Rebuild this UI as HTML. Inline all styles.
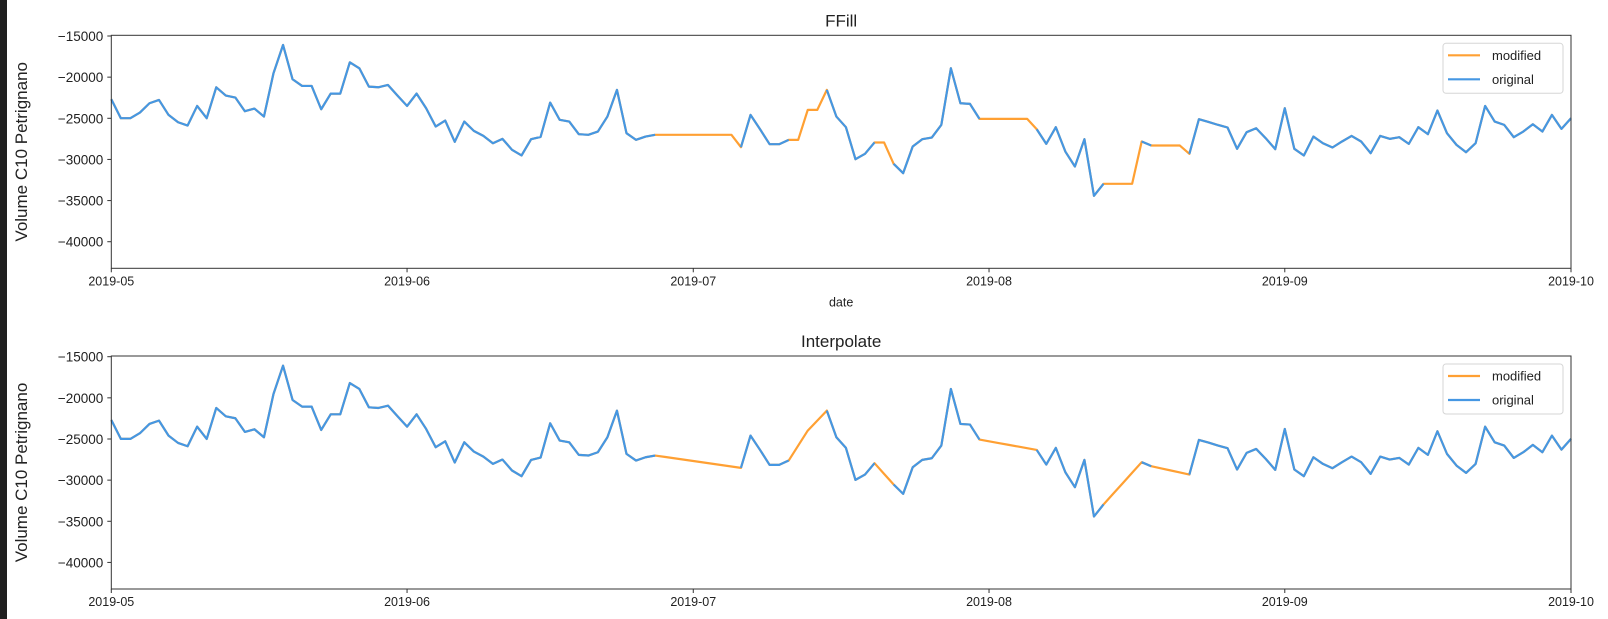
<!DOCTYPE html>
<html><head><meta charset="utf-8"><style>
html,body{margin:0;padding:0;background:#fff;}
body{width:1608px;height:619px;overflow:hidden;position:relative;font-family:"Liberation Sans","DejaVu Sans",sans-serif;}
#strip{position:absolute;left:0;top:0;width:7px;height:619px;background:#1f1f1f;}
</style></head><body>
<div id="strip"></div>
<svg id="chart" width="1608" height="619" style="position:absolute;left:0;top:0"></svg>
<script>
// ---- data ----
const startDate = "2019-05-01";
const monthTicks = ["2019-05","2019-06","2019-07","2019-08","2019-09","2019-10"];
const monthTickDays = [0,31,61,92,123,153];
const yTicks = [-15000,-20000,-25000,-30000,-35000,-40000];
const panelTitles = ["FFill","Interpolate"];
const legendLabels = ["modified","original"];
// daily original values (null = missing)
const original = [
-22690,-24990,-24990,-24300,-23170,-22770,-24590,-25480,-25880,-23500,
-24990,-21230,-22240,-22480,-24140,-23820,-24790,-19530,-16090,-20260,
-21070,-21070,-23900,-22000,-22000,-18200,-18920,-21150,-21230,-20950,
-22240,-23500,-22000,-23780,-26000,-25280,-27860,-25400,-26530,-27140,
-28030,-27500,-28830,-29520,-27540,-27260,-23090,-25190,-25400,-26930,
-27010,-26610,-24790,-21550,-26810,-27620,-27220,-27010,null,null,
null,null,null,null,null,null,-28510,-24590,-26330,-28150,
-28150,-27620,null,-23980,null,-21550,-24790,-26080,-29970,-29320,
-27940,null,-30530,-31670,-28430,-27540,-27340,-25800,-18920,-23170,
-23250,-25070,null,null,null,null,null,-26330,-28110,-26080,
-29040,-30860,-27540,-34420,-32960,null,null,null,-27820,-28310,
null,null,null,-29320,-25110,-25440,-25800,-26120,-28710,-26690,
-26210,-27420,-28750,-23780,-28710,-29520,-27220,-28030,-28550,-27820,
-27140,-27820,-29240,-27140,-27500,-27300,-28110,-26080,-26930,-24060,
-26810,-28230,-29120,-28030,-23500,-25400,-25800,-27300,-26610,-25720,
-26610,-24590,-26290,-24990
];
// ---- derived series ----
function ffill(a){const r=[];let last=null;for(const v of a){if(v!==null)last=v;r.push(v!==null?v:last);}return r;}
function interp(a){const r=a.slice();for(let i=0;i<a.length;i++){if(a[i]===null){let j=i-1;while(j>=0&&a[j]===null)j--;let k=i+1;while(k<a.length&&a[k]===null)k++;
 if(j<0||k>=a.length){r[i]=j>=0?a[j]:a[k];}else{r[i]=a[j]+(a[k]-a[j])*(i-j)/(k-j);}}}return r;}
const modifiedSeries=[ffill(original),interp(original)];

// ---- layout ----
const NS="http://www.w3.org/2000/svg";
const svg=document.getElementById('chart');
const X0=111.3,X1=1571,DAYS=153;
const YMAX=-14915,YMIN=-43230;
const panels=[{top:35.3,bot:268.3},{top:356,bot:589}];
function xs(d){return X0+(X1-X0)*d/DAYS;}
function mk(tag,attrs){const e=document.createElementNS(NS,tag);for(const k in attrs)e.setAttribute(k,attrs[k]);return e;}
const ORANGE="#ffa033",BLUE="#4597e3";

panels.forEach((p,pi)=>{
 const ys=v=>p.top+(YMAX-v)/(YMAX-YMIN)*(p.bot-p.top);
 const g=mk('g',{});
 
 
 svg.appendChild(g);
 // title
 const t=mk('text',{x:(X0+X1)/2,y:p.top-9,'text-anchor':'middle','font-size':'17','fill':'#222'});
 t.textContent=panelTitles[pi];
 
 
 g.appendChild(t);
 // y label
 const yl=mk('text',{x:0,y:0,'text-anchor':'middle','font-size':'17','fill':'#222',transform:`translate(27,${(p.top+p.bot)/2}) rotate(-90)`});
 yl.textContent="Volume C10 Petrignano";
 
 
 g.appendChild(yl);
 // y ticks
 yTicks.forEach(v=>{
  const y=ys(v);
  const tk=mk('line',{x1:X0-4,x2:X0,y1:y,y2:y,stroke:'#333','stroke-width':1});
  
  
  g.appendChild(tk);
  const lb=mk('text',{x:X0-8,y:y+5,'text-anchor':'end','font-size':'13.5','fill':'#222'});
  lb.textContent=String(v).replace('-','\u2212');
  
  
  g.appendChild(lb);
 });
 // x ticks
 monthTicks.forEach((m,i)=>{
  const x=xs(monthTickDays[i]);
  const tk=mk('line',{x1:x,x2:x,y1:p.bot,y2:p.bot+4,stroke:'#333','stroke-width':1});
  
  
  g.appendChild(tk);
  const lb=mk('text',{x:x,y:p.bot+17,'text-anchor':'middle','font-size':'12.5','fill':'#222'});
  lb.textContent=m;
  
  
  g.appendChild(lb);
 });
 if(pi===0){
  const xl=mk('text',{x:(X0+X1)/2,y:p.bot+38,'text-anchor':'middle','font-size':'12.5','fill':'#222'});
  xl.textContent="date";
  
  
  g.appendChild(xl);
 }
 // modified line
 const mod=modifiedSeries[pi];
 let d='';mod.forEach((v,i)=>{d+=(i?'L':'M')+xs(i).toFixed(2)+','+ys(v).toFixed(2);});
 const ml=mk('path',{d:d,fill:'none',stroke:ORANGE,'stroke-width':2.2,'stroke-linejoin':'round'});
 
 
 g.appendChild(ml);
 // original line with gaps
 let od='';let pen=false;
 original.forEach((v,i)=>{if(v===null){pen=false;return;}od+=(pen?'L':'M')+xs(i).toFixed(2)+','+ys(v).toFixed(2);pen=true;});
 const ol=mk('path',{d:od,fill:'none',stroke:BLUE,'stroke-width':2.2,'stroke-linejoin':'round'});
 
 
 g.appendChild(ol);
 // frame
 const fr=mk('rect',{x:X0,y:p.top,width:X1-X0,height:p.bot-p.top,fill:'none',stroke:'#333','stroke-width':1});
 
 
 g.appendChild(fr);
 // legend
 const lg=mk('g',{});
 
 
 g.appendChild(lg);
 const lt=p.top+8;
 lg.appendChild(mk('rect',{x:1443,y:lt,width:120,height:50,rx:3,fill:'#fff','fill-opacity':0.85,stroke:'#d6d6d6'}));
 [ORANGE,BLUE].forEach((c,i)=>{
  const yy=lt+12+i*24;
  const ll=mk('line',{x1:1448,x2:1480,y1:yy,y2:yy,stroke:c,'stroke-width':2.2});
  
  
  lg.appendChild(ll);
  const tx=mk('text',{x:1492,y:yy+4.5,'font-size':'13','fill':'#222'});
  tx.textContent=legendLabels[i];
  
  
  lg.appendChild(tx);
 });
});
</script>
</body></html>
